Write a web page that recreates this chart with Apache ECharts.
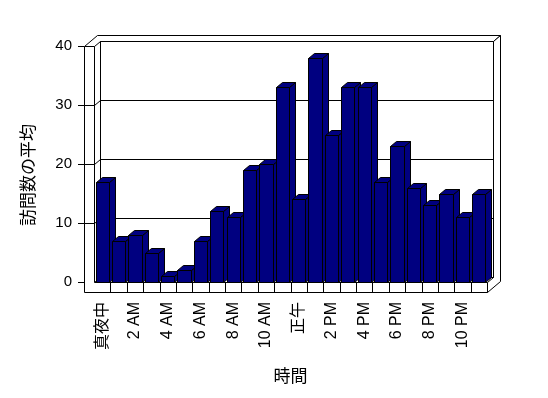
<!DOCTYPE html>
<html><head><meta charset="utf-8">
<script src="https://cdn.jsdelivr.net/npm/echarts@6/dist/echarts.min.js"></script>
<style>html,body{margin:0;padding:0;background:#fff}#c{width:548px;height:398px}</style>
</head><body><div id="c"></div>
<script>
const categories = ['真夜中','1 AM','2 AM','3 AM','4 AM','5 AM','6 AM','7 AM','8 AM','9 AM','10 AM','11 AM',
  '正午','1 PM','2 PM','3 PM','4 PM','5 PM','6 PM','7 PM','8 PM','9 PM','10 PM','11 PM'];
const visits = [17,7,8,5,1,2,7,12,11,19,20,33,14,38,25,33,33,17,23,16,13,15,11,15];
const yTicks = [0,10,20,30,40];

const DX = -6, DY = 5;   // front plane offset from back plane
const OX = 7, OY = -6;   // back-outer offset from back plane
const TH = 10;           // wall / floor thickness
const FONT = "'Liberation Sans', Arial, 'Noto Sans CJK JP', sans-serif";
const NAVY = '#000080';

const chart = echarts.init(document.getElementById('c'), null, {renderer: 'canvas'});
const cr = v => Math.round(v) + 0.5;

function frameRender(params, api) {
  const c = params.coordSys;
  const L = c.x, B = c.y + c.height, W = c.width, H = c.height;
  const f = (X, Y, d) => {
    let ox = 0, oy = 0;
    if (d === 'f') { ox = DX; oy = DY; } else if (d === 'o') { ox = OX; oy = OY; }
    return [cr(L + X + ox), cr(B - Y + oy)];
  };
  const st = {fill: 'none', stroke: '#000', lineWidth: 1};
  const stw = {fill: '#fff', stroke: '#000', lineWidth: 1};
  const ch = [];
  ch.push({type: 'polygon', shape: {points: [f(-TH,H,'f'), f(0,H,'f'), f(0,H,'b'), f(W,H,'b'), f(W,H,'o'), f(-TH,H,'o')]}, style: stw});
  ch.push({type: 'polygon', shape: {points: [f(W,H,'b'), f(W,H,'o'), f(W,-TH,'o'), f(W,-TH,'f'), f(W,0,'f'), f(W,0,'b')]}, style: stw});
  ch.push({type: 'polyline', shape: {points: [f(0,0,'b'), f(0,H,'b'), f(W,H,'b'), f(W,0,'b')]}, style: st});
  ch.push({type: 'polyline', shape: {points: [f(0,0,'f'), f(0,0,'b'), f(W,0,'b')]}, style: st});
  ch.push({type: 'polygon', shape: {points: [f(-TH,H,'f'), f(-TH,-TH,'f'), f(W,-TH,'f'), f(W,0,'f'), f(0,0,'f'), f(0,H,'f')]}, style: stw});
  const bw = W / categories.length;
  for (let k = 1; k < categories.length; k++) {
    const a = f(k*bw,0,'f'), b = f(k*bw,-TH,'f');
    ch.push({type: 'line', shape: {x1: a[0], y1: a[1], x2: b[0], y2: b[1]}, style: st});
  }
  yTicks.forEach(v => {
    if (v === 0 || v === 40) return;
    const yv = H * v / 40;
    ch.push({type: 'polyline', shape: {points: [f(-TH,yv,'f'), f(0,yv,'f'), f(0,yv,'b')]}, style: st});
  });
  return {type: 'group', children: ch};
}

function barRender(params, api) {
  const i = api.value(0), v = api.value(1);
  const top = api.coord([i, v]);
  const base = api.coord([i, 0]);
  const w = api.size([1, 0])[0] * 0.81;
  const x0 = cr(top[0] - w / 2), x1 = cr(top[0] + w / 2);
  const yT = cr(top[1]), yB = cr(base[1]);
  const st = {fill: NAVY, stroke: '#000', lineWidth: 1};
  return {type: 'group', children: [
    {type: 'polygon', shape: {points: [[x1+DX,yT+DY],[x1,yT],[x1,yB],[x1+DX,yB+DY]]}, style: st},
    {type: 'polygon', shape: {points: [[x0+DX,yT+DY],[x0,yT],[x1,yT],[x1+DX,yT+DY]]}, style: st},
    {type: 'polygon', shape: {points: [[x0+DX,yT+DY],[x1+DX,yT+DY],[x1+DX,yB+DY],[x0+DX,yB+DY]]}, style: st}
  ]};
}

const BACK = {left: 100, right: 55, top: 41, bottom: 121};
const option = {
  animation: false,
  backgroundColor: '#fff',
  textStyle: {fontFamily: FONT},
  grid: [
    {left: BACK.left, right: BACK.right, top: BACK.top, bottom: BACK.bottom},
    {left: BACK.left + DX, right: BACK.right - DX, top: BACK.top + DY, bottom: BACK.bottom - DY}
  ],
  xAxis: [
    {type: 'category', gridIndex: 0, data: categories, show: false},
    {type: 'category', gridIndex: 1, data: categories,
     axisLine: {show: false}, axisTick: {show: false},
     axisLabel: {interval: 1, rotate: 90, margin: 20, fontSize: 16, color: '#000', fontFamily: FONT},
     name: '時間', nameLocation: 'middle', nameGap: 87,
     nameTextStyle: {fontSize: 17, color: '#000', fontFamily: FONT}}
  ],
  yAxis: [
    {type: 'value', gridIndex: 0, min: 0, max: 40, interval: 10,
     axisLine: {show: false}, axisTick: {show: false}, axisLabel: {show: false},
     splitLine: {show: true, lineStyle: {color: '#000', width: 1}}},
    {type: 'value', gridIndex: 1, min: 0, max: 40, interval: 10, offset: 10,
     axisLine: {show: false}, axisTick: {show: true, length: 6, lineStyle: {color: '#000'}},
     axisLabel: {margin: 12, fontSize: 15, color: '#000', fontFamily: FONT},
     splitLine: {show: false},
     name: '訪問数の平均', nameLocation: 'middle', nameGap: 46, nameRotate: 90,
     nameTextStyle: {fontSize: 17, color: '#000', fontFamily: FONT, padding: [0, 22, 0, 0]}}
  ],
  series: [
    {type: 'custom', xAxisIndex: 0, yAxisIndex: 0, z: 1, silent: true, clip: false,
     data: [[0, 0]], renderItem: frameRender},
    {type: 'custom', xAxisIndex: 0, yAxisIndex: 0, z: 3, silent: true, clip: false,
     data: visits.map((v, i) => [i, v]), encode: {x: 0, y: 1}, renderItem: barRender}
  ]
};
chart.setOption(option);
</script>
</body></html>
